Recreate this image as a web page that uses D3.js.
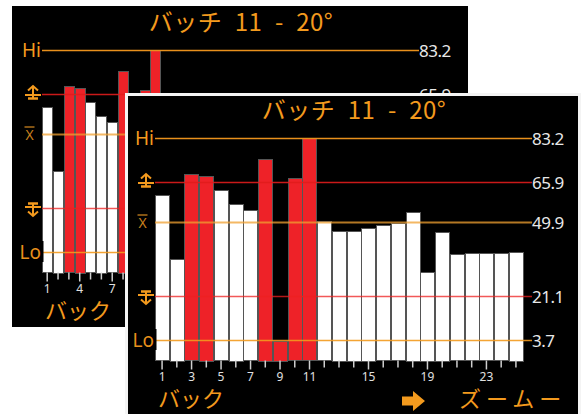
<!DOCTYPE html>
<html>
<head>
<meta charset="utf-8">
<script src="https://cdn.jsdelivr.net/npm/d3@7/dist/d3.min.js"></script>
<style>
  body { margin: 0; background: #fff; }
  svg { display: block; }
</style>
</head>
<body>
<svg id="canvas" width="582" height="414"></svg>
<script>
// batch numbers and measured values
var batches = [1, 2, 3, 4, 5, 6, 7, 8, 9, 10, 11, 12, 13, 14, 15, 16, 17, 18, 19, 20, 21, 22, 23, 24, 25];
var values = [60.5, 35.6, 68.8, 68.2, 62.5, 57.2, 54.6, 75.0, 3.4, 67.2, 83.0, 50.4, 46.7, 46.7,
  47.8, 48.8, 49.6, 54.1, 30.5, 46.2, 37.3, 37.8, 37.8, 37.8, 38.3];

// limit lines
var limitNames = ["hi", "ucl", "mean", "lcl", "lo"];
var limitValues = [83.2, 65.9, 49.9, 21.1, 3.7];
var limitLabels = ["83.2", "65.9", "49.9", "21.1", "3.7"];

// tick labels for the zoomed (front) and the overview (back) screen
var frontTicks = [1, 3, 5, 7, 9, 11, 15, 19, 23];
var backTicks = [1, 4, 7, 10, 13, 16, 19, 22, 25, 28, 31, 34];
var backSlots = 34;

var titleText = "バッチ\u200211\u2002-\u200220°";

var W = 456, H = 321;
var orange = "#f39a1e";
var red = "#ee2228";
var limitStyle = {
  hi:   { color: "#e8901c", op: 1 },
  ucl:  { color: "#e01c1c", op: 0.9 },
  mean: { color: "#f0a030", op: 0.75 },
  lcl:  { color: "#ee2020", op: 0.75 },
  lo:   { color: "#f39a1e", op: 0.9 }
};

var canvas = d3.select("#canvas");

var y = d3.scaleLinear().domain([-4.45, 83.2]).range([266.5, 43.8]);

function drawScreen(g, slots, tickLabels, isFront) {
  g.append("rect").attr("width", W).attr("height", H).attr("fill", "#000");

  var x = d3.scaleBand().domain(slots).range([30, 398]).paddingInner(0.04);

  // title
  g.append("text")
    .attr("x", 229).attr("y", 25)
    .attr("text-anchor", "middle")
    .style("font", "24px 'Noto Sans CJK JP'")
    .style("letter-spacing", "0.5px")
    .attr("fill", orange)
    .text(titleText);

  // bars
  g.append("g").selectAll("rect")
    .data(values)
    .enter()
    .append("rect")
    .attr("x", function(d, i) { return Math.round(x(batches[i])); })
    .attr("y", function(d) { return Math.round(y(d)); })
    .attr("width", Math.round(x.bandwidth()))
    .attr("height", function(d) { return Math.round(y.range()[0] - y(d)); })
    .attr("fill", function(d) {
      return (d > limitValues[1] || d < limitValues[3]) ? red : "#fff";
    })
    .attr("stroke", "#555")
    .attr("stroke-width", 1)
    .attr("shape-rendering", "crispEdges");

  // limit lines
  limitNames.forEach(function(name, i) {
    var ly = Math.round(y(limitValues[i])) + 0.5;
    g.append("line")
      .attr("x1", 30).attr("x2", 407)
      .attr("y1", ly).attr("y2", ly)
      .attr("stroke", limitStyle[name].color)
      .attr("stroke-opacity", limitStyle[name].op)
      .attr("stroke-width", name == "mean" ? 2 : 1.5);
    g.append("text")
      .attr("x", 407).attr("y", ly + 6)
      .style("font", "17px 'Noto Sans'")
      .style("letter-spacing", "-0.5px")
      .attr("fill", "#e8e8e8")
      .text(limitLabels[i]);
  });

  // left labels
  var hiY = Math.round(y(limitValues[0]));
  g.append("text").attr("x", 29).attr("y", hiY + 7)
    .attr("text-anchor", "end")
    .style("font", "19px 'Noto Sans'").attr("fill", orange).text("Hi");

  var loY = Math.round(y(limitValues[4]));
  g.append("rect").attr("x", 9).attr("y", loY - 11).attr("width", 22.5).attr("height", 21).attr("fill", "#000");
  g.append("text").attr("x", 29).attr("y", loY + 7)
    .attr("text-anchor", "end")
    .style("font", "19px 'Noto Sans'").attr("fill", "#e8901c").text("Lo");

  var mY = Math.round(y(limitValues[2]));
  g.append("text").attr("x", 17.5).attr("y", mY + 6)
    .attr("text-anchor", "middle")
    .style("font", "14px 'Noto Sans'").attr("fill", "#c8801e").text("X");
  g.append("line").attr("x1", 12.5).attr("x2", 22.5).attr("y1", mY - 7).attr("y2", mY - 7)
    .attr("stroke", "#c8801e").attr("stroke-width", 1.3);

  // control limit symbols
  function limitSymbol(cy, dir) {
    var s = g.append("g").attr("transform", "translate(21," + cy + ") scale(1," + dir + ")")
      .attr("fill", "none").attr("stroke", orange).attr("stroke-width", 2);
    s.append("path").attr("d", "M-5,-3.5L0,-8L5,-3.5");
    s.append("path").attr("d", "M0,-8V4");
    s.append("path").attr("d", "M-8,1H8");
    s.append("path").attr("d", "M-5,4.5H5").attr("stroke-width", 2.5);
  }
  limitSymbol(Math.round(y(limitValues[1])), 1);
  limitSymbol(Math.round(y(limitValues[3])), -1);

  // x axis
  var axis = g.append("g")
    .attr("transform", "translate(0," + y.range()[0] + ")")
    .call(d3.axisBottom(x).tickSize(9).tickPadding(3)
      .tickFormat(function(d) { return tickLabels.indexOf(d) >= 0 ? d : ""; }));
  axis.select(".domain").remove();
  axis.selectAll(".tick line")
    .attr("stroke", "#cfcfcf").attr("stroke-width", 1.5)
    .attr("y2", function(d) { return tickLabels.indexOf(d) >= 0 ? 9 : 7; });
  axis.selectAll(".tick text")
    .attr("fill", "#e0e0e0")
    .style("font", "12px 'Noto Sans'");

  // bottom buttons
  g.append("text").attr("x", 33).attr("y", 313)
    .style("font", "22px 'Noto Sans CJK JP'").attr("fill", orange)
    .text("バック");

  if (isFront) {
    g.append("path")
      .attr("d", "M277,302.5H288V297L300,307L288,317V311.5H277Z")
      .attr("fill", orange);
    g.append("text").attr("x", 334).attr("y", 313)
      .style("font", "22px 'Noto Sans CJK JP'")
      .style("letter-spacing", "5px")
      .attr("fill", orange)
      .text("ズームー");
    g.append("rect")
      .attr("x", 1.5).attr("y", 0.5).attr("width", W - 3).attr("height", H)
      .attr("fill", "none").attr("stroke", "#f4f4f4").attr("stroke-width", 3);
  }
}

var back = canvas.append("g").attr("transform", "translate(12,6)");
drawScreen(back, d3.range(1, backSlots + 1), backTicks, false);

var front = canvas.append("g").attr("transform", "translate(125,94)");
drawScreen(front, batches, frontTicks, true);
</script>
</body>
</html>
